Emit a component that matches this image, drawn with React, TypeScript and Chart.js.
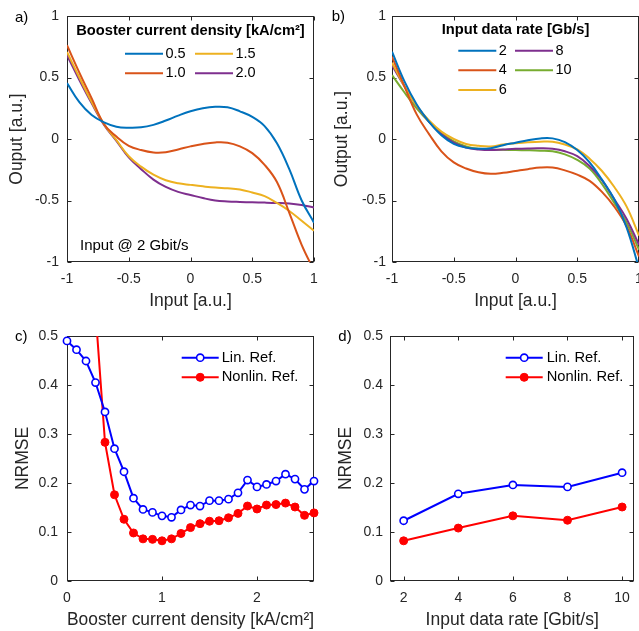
import React, { useEffect, useRef } from "react";
import { Chart, registerables } from "chart.js";

Chart.register(...registerables);

// ---------------- data ----------------
// panel a / b : transfer curves, sampled on the input axis
const INPUT_X = [-1, -0.9, -0.8, -0.7, -0.6, -0.5, -0.4, -0.3, -0.2, -0.1, 0, 0.1, 0.2, 0.3, 0.4, 0.5, 0.6, 0.7, 0.8, 0.9, 1];

const A_SERIES_LABELS = ["0.5", "1.0", "1.5", "2.0"];
const A_J05 = [0.455, 0.3, 0.195, 0.135, 0.1, 0.092, 0.095, 0.115, 0.15, 0.19, 0.225, 0.25, 0.262, 0.258, 0.225, 0.18, 0.105, -0.035, -0.245, -0.5, -0.68];
const A_J10 = [0.762, 0.54, 0.33, 0.12, 0.02, -0.055, -0.09, -0.11, -0.108, -0.085, -0.06, -0.04, -0.028, -0.03, -0.06, -0.115, -0.21, -0.35, -0.6, -0.86, -1.07];
const A_J15 = [0.708, 0.5, 0.3, 0.12, -0.01, -0.14, -0.225, -0.29, -0.335, -0.36, -0.373, -0.385, -0.395, -0.4, -0.41, -0.435, -0.465, -0.52, -0.585, -0.665, -0.746];
const A_J20 = [0.681, 0.48, 0.29, 0.115, -0.015, -0.15, -0.245, -0.33, -0.39, -0.43, -0.455, -0.48, -0.5, -0.508, -0.512, -0.515, -0.517, -0.52, -0.525, -0.537, -0.557];

const B_SERIES_LABELS = ["2", "4", "6", "8", "10"];
const B_R2 = [0.71, 0.47, 0.28, 0.14, 0.03, -0.04, -0.07, -0.08, -0.075, -0.05, -0.03, -0.01, 0.005, 0.005, -0.025, -0.09, -0.19, -0.33, -0.49, -0.72, -1.05];
const B_R4 = [0.67, 0.43, 0.2, 0.04, -0.1, -0.19, -0.24, -0.27, -0.283, -0.275, -0.26, -0.245, -0.232, -0.232, -0.255, -0.29, -0.34, -0.43, -0.55, -0.71, -0.955];
const B_R6 = [0.62, 0.43, 0.27, 0.15, 0.06, 0.0, -0.04, -0.055, -0.06, -0.045, -0.035, -0.027, -0.022, -0.022, -0.045, -0.085, -0.16, -0.26, -0.39, -0.55, -0.785];
const B_R8 = [0.6, 0.43, 0.27, 0.14, 0.04, -0.03, -0.07, -0.085, -0.09, -0.085, -0.08, -0.077, -0.076, -0.08, -0.1, -0.14, -0.22, -0.335, -0.49, -0.65, -0.86];
const B_R10 = [0.52, 0.38, 0.25, 0.14, 0.05, -0.02, -0.06, -0.08, -0.085, -0.088, -0.09, -0.092, -0.095, -0.1, -0.125, -0.17, -0.24, -0.365, -0.52, -0.68, -0.9];

// panel c : NRMSE vs booster current density
const C_X = [0, 0.1, 0.2, 0.3, 0.4, 0.5, 0.6, 0.7, 0.8, 0.9, 1, 1.1, 1.2, 1.3, 1.4, 1.5, 1.6, 1.7, 1.8, 1.9, 2, 2.1, 2.2, 2.3, 2.4, 2.5, 2.6];
const C_LIN = [0.49, 0.472, 0.449, 0.405, 0.345, 0.27, 0.223, 0.169, 0.146, 0.14, 0.133, 0.13, 0.145, 0.155, 0.153, 0.164, 0.164, 0.167, 0.18, 0.206, 0.192, 0.197, 0.204, 0.218, 0.208, 0.187, 0.204];
const C_NONLIN = [null, null, null, 0.55, 0.283, 0.176, 0.126, 0.098, 0.086, 0.085, 0.082, 0.086, 0.097, 0.109, 0.117, 0.122, 0.123, 0.129, 0.138, 0.153, 0.147, 0.155, 0.156, 0.159, 0.151, 0.134, 0.139];

// panel d : NRMSE vs input data rate
const D_X = [2, 4, 6, 8, 10];
const D_LIN = [0.123, 0.178, 0.196, 0.192, 0.221];
const D_NONLIN = [0.082, 0.108, 0.133, 0.124, 0.151];

const REF_LABELS = ["Lin. Ref.", "Nonlin. Ref."];

// tick values
const AB_TICKS = [-1, -0.5, 0, 0.5, 1];
const CD_Y_TICKS = [0, 0.1, 0.2, 0.3, 0.4, 0.5];
const C_X_TICKS = [0, 1, 2];
const D_X_TICKS = [2, 4, 6, 8, 10];

// ---------------- styling ----------------
const FONT = '"Liberation Sans", Arial, Helvetica, sans-serif';
const AXIS = "#262626";
const TICK_LEN = 4;
const M_BLUE = "#0072BD";
const M_ORANGE = "#D95319";
const M_YELLOW = "#EDB120";
const M_PURPLE = "#7E2F8E";
const M_GREEN = "#77AC30";

const matlabPlugin = {
  id: "matlab",
  beforeDatasetsDraw(chart: any) {
    const { ctx, chartArea: ca, scales } = chart;
    const xs = scales.x;
    const ys = scales.y;
    ctx.save();
    ctx.strokeStyle = AXIS;
    ctx.lineWidth = 1;
    const L = Math.round(ca.left) + 0.5;
    const R = Math.round(ca.right) - 0.5;
    const T = Math.round(ca.top) + 0.5;
    const B = Math.round(ca.bottom) - 0.5;
    ctx.beginPath();
    for (const t of xs.ticks) {
      const px = Math.round(xs.getPixelForValue(t.value)) + 0.5;
      ctx.moveTo(px, B);
      ctx.lineTo(px, B - TICK_LEN);
      ctx.moveTo(px, T);
      ctx.lineTo(px, T + TICK_LEN);
    }
    for (const t of ys.ticks) {
      const py = Math.round(ys.getPixelForValue(t.value)) + 0.5;
      ctx.moveTo(L, py);
      ctx.lineTo(L + TICK_LEN, py);
      ctx.moveTo(R, py);
      ctx.lineTo(R - TICK_LEN, py);
    }
    ctx.stroke();
    ctx.strokeRect(L, T, R - L, B - T);
    ctx.restore();
  },
  afterDatasetsDraw(chart: any, _args: any, opts: any) {
    const { ctx } = chart;
    ctx.save();
    ctx.fillStyle = "#000";
    const lg = opts && opts.legend;
    if (lg) {
      if (lg.title) {
        ctx.font = lg.titleFont;
        ctx.textAlign = "center";
        ctx.textBaseline = "middle";
        ctx.fillStyle = "#000";
        ctx.fillText(lg.title, lg.titleX, lg.titleY);
      }
      for (const it of lg.items) {
        const ds = chart.data.datasets[it.ds];
        ctx.strokeStyle = ds.borderColor;
        ctx.lineWidth = ds.borderWidth;
        ctx.beginPath();
        ctx.moveTo(it.x, it.y);
        ctx.lineTo(it.x + lg.lineLen, it.y);
        ctx.stroke();
        if (ds.pointRadius > 0) {
          ctx.beginPath();
          ctx.arc(it.x + lg.lineLen / 2, it.y, ds.pointRadius, 0, Math.PI * 2);
          ctx.fillStyle = ds.pointBackgroundColor;
          ctx.fill();
          ctx.lineWidth = ds.pointBorderWidth;
          ctx.strokeStyle = ds.pointBorderColor;
          ctx.stroke();
        }
        ctx.font = lg.itemFont;
        ctx.textAlign = "left";
        ctx.textBaseline = "middle";
        ctx.fillStyle = "#000";
        ctx.fillText(ds.label, it.x + lg.lineLen + lg.gap, it.y);
      }
    }
    for (const n of (opts && opts.notes) || []) {
      ctx.font = n.font;
      ctx.textAlign = "left";
      ctx.textBaseline = "middle";
      ctx.fillStyle = n.color || "#000";
      ctx.fillText(n.text, n.x, n.y);
    }
    ctx.restore();
  },
};

type Spec = {
  datasets: any[];
  xMin: number; xMax: number; xTicks: number[];
  yMin: number; yMax: number; yTicks: number[];
  xTitle: string; yTitle: string;
  pad: { left: number; top: number; right: number; bottom: number };
  yAxisW: number; xAxisH: number;
  yTickPad: number; xTickPad: number;
  yTitlePad: number; xTitlePad: number;
  legend: any; notes: any[];
};

function buildConfig(s: Spec): any {
  const tickFont = { family: FONT, size: 14 };
  const titleFont = { family: FONT, size: 17.5, lineHeight: 1.2 };
  return {
    type: "line",
    data: { datasets: s.datasets },
    plugins: [matlabPlugin],
    options: {
      responsive: false,
      animation: false,
      events: [],
      layout: { padding: s.pad },
      plugins: {
        legend: { display: false },
        tooltip: { enabled: false },
        matlab: { legend: s.legend, notes: s.notes },
      },
      scales: {
        x: {
          type: "linear",
          min: s.xMin,
          max: s.xMax,
          afterBuildTicks: (sc: any) => { sc.ticks = s.xTicks.map((v) => ({ value: v })); },
          afterFit: (sc: any) => {
            sc.height = s.xAxisH;
            sc.paddingLeft = 0;
            sc.paddingRight = 0;
          },
          grid: { display: false, drawTicks: false, tickLength: 0 },
          border: { display: false },
          ticks: { color: AXIS, font: tickFont, padding: s.xTickPad, maxRotation: 0, autoSkip: false, callback: (v: any) => String(v) },
          title: { display: true, text: s.xTitle, color: AXIS, font: titleFont, padding: { top: 0, bottom: s.xTitlePad } },
        },
        y: {
          type: "linear",
          min: s.yMin,
          max: s.yMax,
          afterBuildTicks: (sc: any) => { sc.ticks = s.yTicks.map((v) => ({ value: v })); },
          afterFit: (sc: any) => {
            sc.width = s.yAxisW;
            sc.paddingTop = 0;
            sc.paddingBottom = 0;
          },
          grid: { display: false, drawTicks: false, tickLength: 0 },
          border: { display: false },
          ticks: { color: AXIS, font: tickFont, padding: s.yTickPad, autoSkip: false, callback: (v: any) => String(v) },
          title: { display: true, text: s.yTitle, color: AXIS, font: titleFont, padding: { top: s.yTitlePad, bottom: 0 } },
        },
      },
    },
  };
}

function curve(label: string, xs: number[], ys: (number | null)[], color: string) {
  return {
    label,
    data: xs.map((x, i) => ({ x, y: ys[i] })),
    borderColor: color,
    backgroundColor: color,
    borderWidth: 2,
    pointRadius: 0,
    tension: 0.4,
    fill: false,
  };
}

function marked(label: string, xs: number[], ys: (number | null)[], color: string, filled: boolean) {
  return {
    label,
    data: xs.map((x, i) => ({ x, y: ys[i] })),
    borderColor: color,
    backgroundColor: color,
    borderWidth: 2,
    pointRadius: filled ? 4 : 3.6,
    pointBorderWidth: filled ? 1 : 1.6,
    pointBorderColor: color,
    pointBackgroundColor: filled ? color : "#ffffff",
    tension: 0,
    fill: false,
    clip: { left: 8, right: 8, top: 0, bottom: 8 },
  };
}

const LEGEND_TITLE_FONT = `bold 14.7px ${FONT}`;
const LEGEND_ITEM_FONT = `14.5px ${FONT}`;
const LABEL_FONT = `15px ${FONT}`;

function specA(): Spec {
  return {
    datasets: [
      curve(A_SERIES_LABELS[0], INPUT_X, A_J05, M_BLUE),
      curve(A_SERIES_LABELS[1], INPUT_X, A_J10, M_ORANGE),
      curve(A_SERIES_LABELS[2], INPUT_X, A_J15, M_YELLOW),
      curve(A_SERIES_LABELS[3], INPUT_X, A_J20, M_PURPLE),
    ],
    xMin: -1, xMax: 1, xTicks: AB_TICKS,
    yMin: -1, yMax: 1, yTicks: AB_TICKS,
    xTitle: "Input [a.u.]", yTitle: "Ouput [a.u.]",
    pad: { left: 0, top: 16, right: 6, bottom: 0 },
    yAxisW: 67, xAxisH: 58,
    yTickPad: 8, xTickPad: 9,
    yTitlePad: 6.6, xTitlePad: 8.5,
    legend: {
      title: "Booster current density [kA/cm\u00B2]",
      titleX: 190.5, titleY: 31,
      titleFont: LEGEND_TITLE_FONT, itemFont: LEGEND_ITEM_FONT,
      lineLen: 38, gap: 2.5,
      items: [
        { ds: 0, x: 125, y: 53.7 },
        { ds: 1, x: 125, y: 73.3 },
        { ds: 2, x: 195, y: 53.7 },
        { ds: 3, x: 195, y: 73.3 },
      ],
    },
    notes: [
      { text: "a)", x: 15, y: 17.5, font: LABEL_FONT },
      { text: "Input @ 2 Gbit/s", x: 80, y: 245.4, font: LABEL_FONT },
    ],
  };
}

function specB(): Spec {
  return {
    datasets: [
      curve(B_SERIES_LABELS[0], INPUT_X, B_R2, M_BLUE),
      curve(B_SERIES_LABELS[1], INPUT_X, B_R4, M_ORANGE),
      curve(B_SERIES_LABELS[2], INPUT_X, B_R6, M_YELLOW),
      curve(B_SERIES_LABELS[3], INPUT_X, B_R8, M_PURPLE),
      curve(B_SERIES_LABELS[4], INPUT_X, B_R10, M_GREEN),
    ],
    xMin: -1, xMax: 1, xTicks: AB_TICKS,
    yMin: -1, yMax: 1, yTicks: AB_TICKS,
    xTitle: "Input [a.u.]", yTitle: "Output [a.u.]",
    pad: { left: 0, top: 16, right: 21, bottom: 0 },
    yAxisW: 72, xAxisH: 58,
    yTickPad: 6, xTickPad: 9,
    yTitlePad: 12.1, xTitlePad: 8.5,
    legend: {
      title: "Input data rate [Gb/s]",
      titleX: 195.5, titleY: 30,
      titleFont: LEGEND_TITLE_FONT, itemFont: LEGEND_ITEM_FONT,
      lineLen: 38, gap: 2.5,
      items: [
        { ds: 0, x: 138.3, y: 50.7 },
        { ds: 1, x: 138.3, y: 70.3 },
        { ds: 2, x: 138.3, y: 90 },
        { ds: 3, x: 195, y: 50.7 },
        { ds: 4, x: 195, y: 70.3 },
      ],
    },
    notes: [{ text: "b)", x: 11.7, y: 17, font: LABEL_FONT }],
  };
}

function specC(): Spec {
  return {
    datasets: [
      marked(REF_LABELS[0], C_X, C_LIN, "#0000FF", false),
      marked(REF_LABELS[1], C_X, C_NONLIN, "#FF0000", true),
    ],
    xMin: 0, xMax: 2.6, xTicks: C_X_TICKS,
    yMin: 0, yMax: 0.5, yTicks: CD_Y_TICKS,
    xTitle: "Booster current density [kA/cm\u00B2]", yTitle: "NRMSE",
    pad: { left: 0, top: 16, right: 6, bottom: 0 },
    yAxisW: 67, xAxisH: 59,
    yTickPad: 9, xTickPad: 9,
    yTitlePad: 12.8, xTitlePad: 9.3,
    legend: {
      titleFont: LEGEND_TITLE_FONT, itemFont: `14.7px ${FONT}`,
      lineLen: 37, gap: 3,
      items: [
        { ds: 0, x: 181.7, y: 37.7 },
        { ds: 1, x: 181.7, y: 57.3 },
      ],
    },
    notes: [{ text: "c)", x: 15, y: 16.7, font: LABEL_FONT }],
  };
}

function specD(): Spec {
  return {
    datasets: [
      marked(REF_LABELS[0], D_X, D_LIN, "#0000FF", false),
      marked(REF_LABELS[1], D_X, D_NONLIN, "#FF0000", true),
    ],
    xMin: 1.5, xMax: 10.45, xTicks: D_X_TICKS,
    yMin: 0, yMax: 0.5, yTicks: CD_Y_TICKS,
    xTitle: "Input data rate [Gbit/s]", yTitle: "NRMSE",
    pad: { left: 0, top: 16, right: 4, bottom: 0 },
    yAxisW: 70, xAxisH: 59,
    yTickPad: 7, xTickPad: 9,
    yTitlePad: 15.3, xTitlePad: 9.3,
    legend: {
      titleFont: LEGEND_TITLE_FONT, itemFont: `14.7px ${FONT}`,
      lineLen: 37, gap: 4,
      items: [
        { ds: 0, x: 185.7, y: 37.7 },
        { ds: 1, x: 185.7, y: 57.3 },
      ],
    },
    notes: [{ text: "d)", x: 18.3, y: 17, font: LABEL_FONT }],
  };
}

function Panel(props: { left: number; top: number; width: number; height: number; spec: () => Spec }) {
  const ref = useRef<HTMLCanvasElement>(null);
  useEffect(() => {
    const chart = new Chart(ref.current as HTMLCanvasElement, buildConfig(props.spec()));
    return () => chart.destroy();
  }, []);
  return (
    <canvas
      ref={ref}
      width={props.width}
      height={props.height}
      style={{ position: "absolute", left: props.left, top: props.top, width: props.width, height: props.height }}
    />
  );
}

export default function App() {
  return (
    <div style={{ position: "fixed", left: 0, top: 0, width: 639, height: 631, overflow: "hidden", background: "#ffffff" }}>
      <Panel left={0} top={0} width={320} height={320} spec={specA} />
      <Panel left={320} top={0} width={340} height={320} spec={specB} />
      <Panel left={0} top={320} width={320} height={320} spec={specC} />
      <Panel left={320} top={320} width={320} height={320} spec={specD} />
    </div>
  );
}
